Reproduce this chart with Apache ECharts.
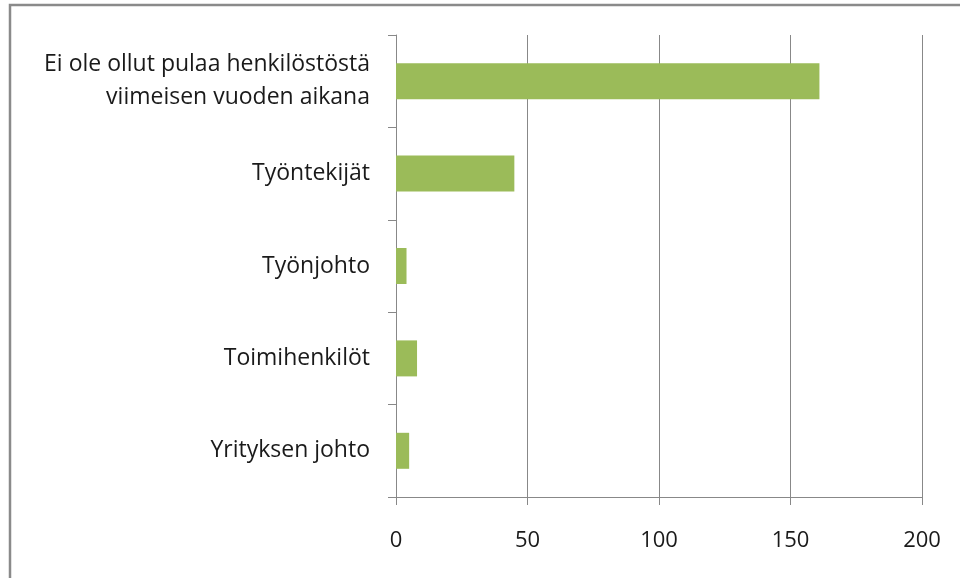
<!DOCTYPE html>
<html>
<head>
<meta charset="utf-8">
<script src="https://cdn.jsdelivr.net/npm/echarts@6/dist/echarts.min.js"></script>
<style>
  html, body { margin: 0; padding: 0; background: #fff; }
  #chart { width: 960px; height: 578px; }
</style>
</head>
<body>
<div id="chart"></div>
<script>
// kategoriat ylhäältä alas
const categories = [
  'Ei ole ollut pulaa henkilöstöstä\nviimeisen vuoden aikana',
  'Työntekijät',
  'Työnjohto',
  'Toimihenkilöt',
  'Yrityksen johto'
]
const values = [161, 45, 4, 8, 5]
const xTicks = [0, 50, 100, 150, 200]

const chart = echarts.init(document.getElementById('chart'))

const lineColor = '#888888'
const font = '"Open Sans", sans-serif'

chart.setOption({
  animation: false,
  backgroundColor: '#fff',
  // ulkoreunus (vain vasen ja ylä näkyvät)
  graphic: [
    {
      type: 'rect',
      shape: { x: 10, y: 5, width: 1000, height: 700 },
      style: { fill: 'none', stroke: '#8a8a8a', lineWidth: 2.5 }
    }
  ],
  grid: { left: 396, right: 38, top: 35, bottom: 81, containLabel: false },
  xAxis: {
    type: 'value',
    min: xTicks[0],
    max: xTicks[xTicks.length - 1],
    interval: 50,
    axisLine: { show: true, lineStyle: { color: lineColor, width: 1 } },
    axisTick: { show: true, length: 8, lineStyle: { color: lineColor } },
    splitLine: { show: true, lineStyle: { color: lineColor, width: 1 } },
    axisLabel: { color: '#1a1a1a', fontSize: 22, fontFamily: font, margin: 33 }
  },
  yAxis: {
    type: 'category',
    inverse: true,
    data: categories,
    axisLine: { show: true, lineStyle: { color: lineColor, width: 1 } },
    axisTick: { show: true, length: 8, lineStyle: { color: lineColor } },
    axisLabel: {
      color: '#1a1a1a', fontSize: 23, fontFamily: font, margin: 26,
      lineHeight: 33, align: 'right'
    }
  },
  series: [{
    type: 'bar',
    data: values,
    barWidth: 36,
    itemStyle: { color: '#9bbb59' }
  }]
})
</script>
</body>
</html>
